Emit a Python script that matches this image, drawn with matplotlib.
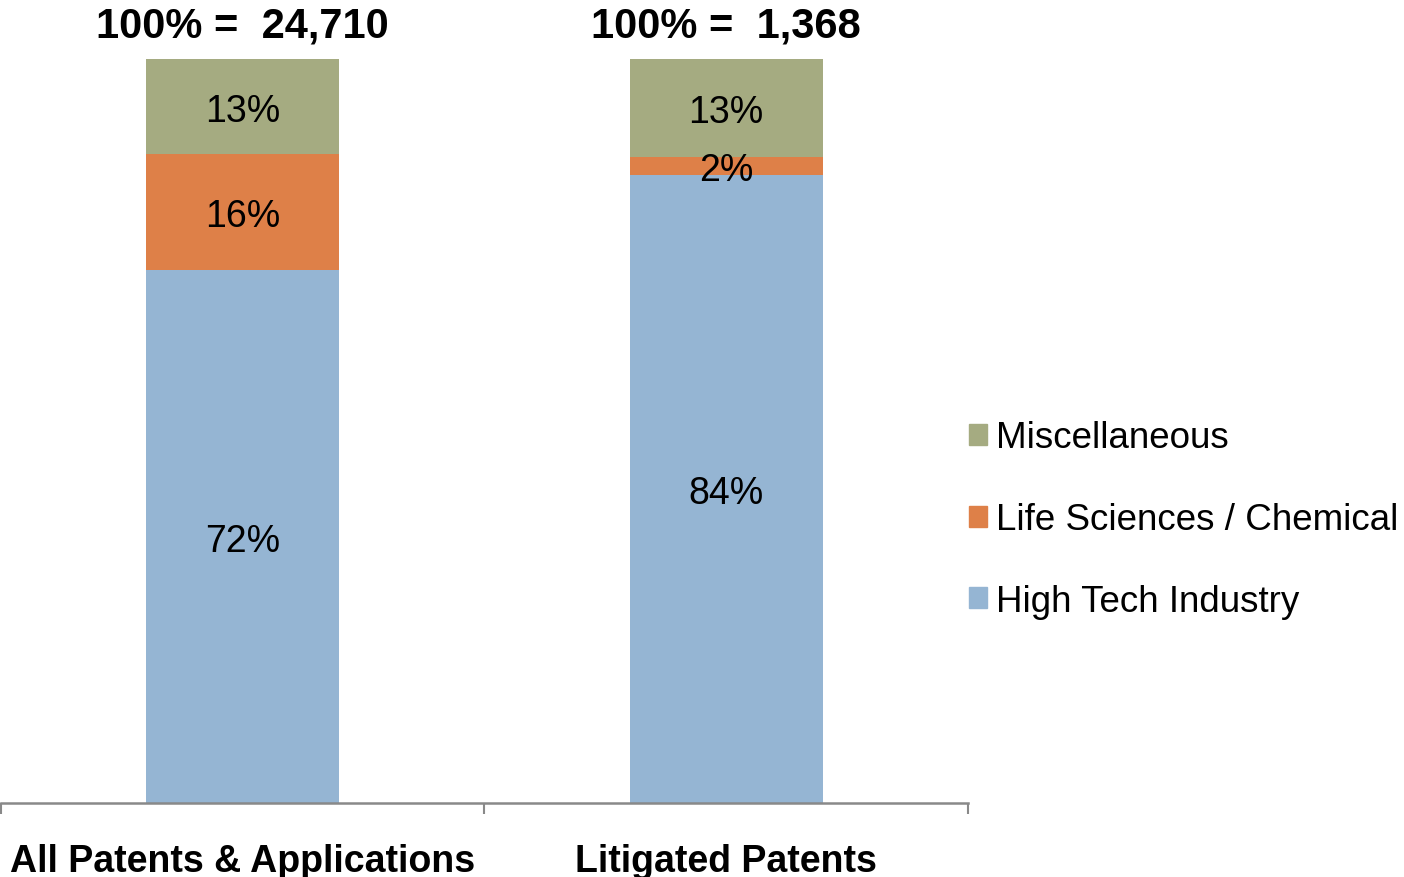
import numpy as np
import matplotlib
matplotlib.use('Agg')
import matplotlib.pyplot as plt
from matplotlib.patches import Patch

categories = ['All Patents & Applications', 'Litigated Patents']
totals = ['24,710', '1,368']
high_tech = [71.6, 84.4]
life_sci = [15.6, 2.4]
misc = [12.8, 13.2]
series_names = ['High Tech Industry', 'Life Sciences / Chemical', 'Miscellaneous']
colors = ['#95B5D3', '#DE8048', '#A5AB81']

plt.rcParams['font.family'] = ['Liberation Sans', 'DejaVu Sans']

fig = plt.figure(figsize=(14.04, 8.78), dpi=100)
ax = fig.add_axes([0.0007, 0.0843, 967 / 1404, 0.9317 - 0.0843])

x = np.arange(len(categories))
bottom = np.zeros(len(categories))
for vals, name, c in zip([high_tech, life_sci, misc], series_names, colors):
    vals = np.array(vals)
    ax.bar(x, vals, 0.4, bottom=bottom, color=c, label=name)
    for xi, b, v in zip(x, bottom, vals):
        ax.text(xi, b + v / 2, '%d%%' % round(v), ha='center', va='center_baseline', fontsize=27)
    bottom += vals

for xi, t in zip(x, totals):
    ax.annotate('100% =  ' + t, xy=(xi, 100), xytext=(0, 16), textcoords='offset points',
                ha='center', va='baseline', fontsize=30, fontweight='bold')

ax.set_xlim(-0.5, 1.5)
ax.set_ylim(0, 100)
ax.set_yticks([])
ax.set_xticks(x)
ax.set_xticklabels(categories, fontsize=27, fontweight='bold')
ax.tick_params(axis='x', which='major', length=0, pad=29)
ax.set_xticks([-0.5, 0.5, 1.5], minor=True)
ax.tick_params(axis='x', which='minor', length=8, width=1.5, color='#898989', direction='out')
for s in ['left', 'top', 'right']:
    ax.spines[s].set_visible(False)
ax.spines['bottom'].set_color('#898989')
ax.spines['bottom'].set_linewidth(1.8)

handles = [Patch(color=c) for c in colors][::-1]
fig.legend(handles, series_names[::-1], loc='center left', bbox_to_anchor=(0.6665, 0.407),
           frameon=False, fontsize=26.5, handlelength=0.5, handleheight=0.5,
           handletextpad=0.24, labelspacing=1.27)

fig.savefig('out.png', dpi=100)
